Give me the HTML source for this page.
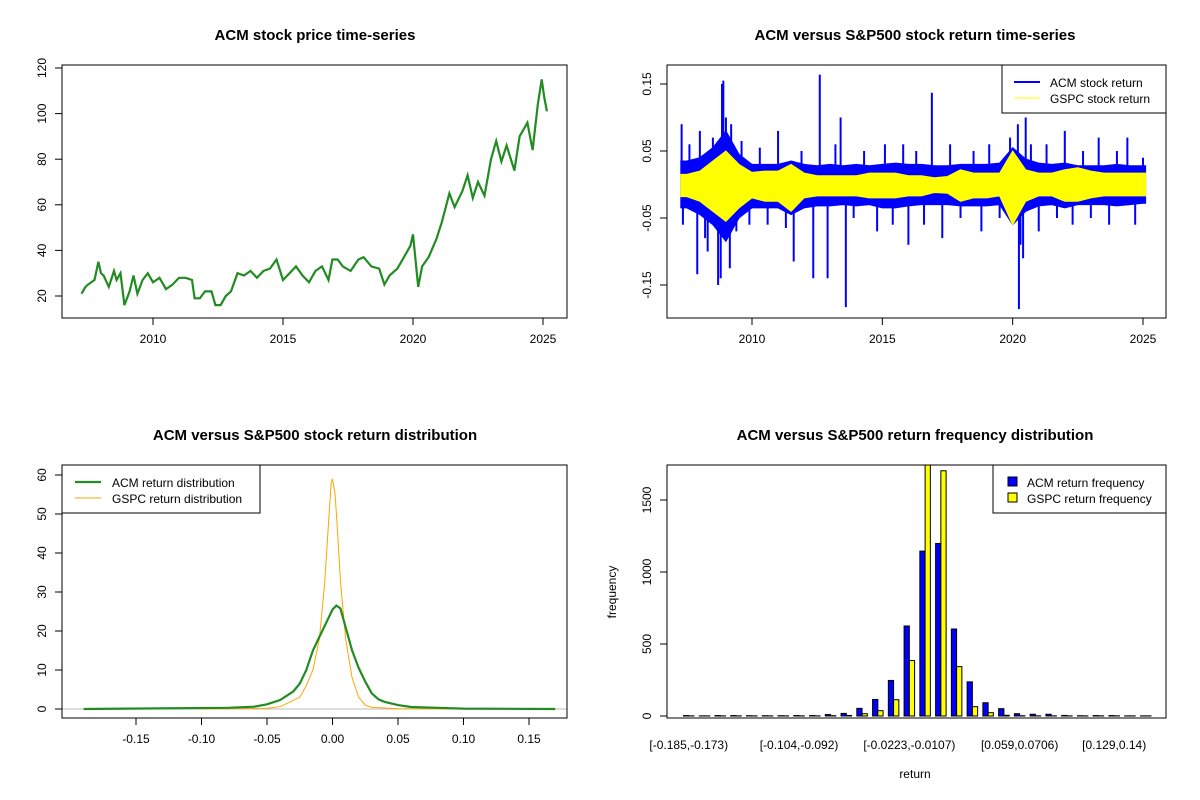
<!DOCTYPE html>
<html><head><meta charset="utf-8">
<style>
body{margin:0;background:#fff;}
svg{display:block;font-family:"Liberation Sans",Arial,sans-serif;}
</style></head>
<body>
<svg id="s" width="1200" height="800" viewBox="0 0 1200 800">
<rect width="1200" height="800" fill="#fff"/>
</svg>
<script>
// ---------- data ----------
const priceYears=[2007.25,2007.4,2007.5,2007.75,2007.9,2008.0,2008.1,2008.3,2008.5,2008.6,2008.75,2008.9,2009.1,2009.25,2009.4,2009.6,2009.8,2010.0,2010.25,2010.5,2010.75,2011.0,2011.25,2011.5,2011.6,2011.8,2012.0,2012.25,2012.4,2012.6,2012.8,2013.0,2013.25,2013.5,2013.75,2014.0,2014.25,2014.5,2014.75,2015.0,2015.25,2015.5,2015.75,2016.0,2016.25,2016.5,2016.75,2016.9,2017.1,2017.3,2017.6,2017.9,2018.1,2018.4,2018.7,2018.9,2019.1,2019.4,2019.6,2019.9,2020.0,2020.2,2020.35,2020.6,2020.9,2021.1,2021.4,2021.6,2021.9,2022.1,2022.3,2022.5,2022.75,2023.0,2023.2,2023.4,2023.6,2023.9,2024.1,2024.4,2024.6,2024.8,2024.95,2025.05,2025.15];
const priceValues=[21,24,25,27,35,30,29,24,31,27,30,16,22,29,21,27,30,26,28,23,25,28,28,27,19,19,22,22,16,16,20,22,30,29,31,28,31,32,36,27,30,33,29,26,31,33,27,36,36,33,31,36,37,33,32,25,29,32,36,42,47,24,33,37,45,52,65,59,66,73,63,70,64,80,88,79,86,75,90,96,84,104,115,107,101];

const retPeriods=[2007.5,2008.0,2008.5,2009.0,2009.5,2010.0,2010.5,2011.0,2011.5,2012.0,2012.5,2013.0,2013.5,2014.0,2014.5,2015.0,2015.5,2016.0,2016.5,2017.0,2017.5,2018.0,2018.5,2019.0,2019.5,2020.0,2020.5,2021.0,2021.5,2022.0,2022.5,2023.0,2023.5,2024.0,2024.5,2025.0];
const acmHi=[0.035,0.04,0.055,0.08,0.045,0.03,0.03,0.03,0.035,0.03,0.028,0.03,0.028,0.03,0.028,0.03,0.032,0.03,0.03,0.028,0.028,0.03,0.03,0.03,0.032,0.055,0.038,0.032,0.03,0.032,0.028,0.028,0.028,0.03,0.028,0.028];
const acmLo=[-0.035,-0.045,-0.06,-0.085,-0.05,-0.035,-0.035,-0.035,-0.045,-0.035,-0.032,-0.032,-0.03,-0.032,-0.03,-0.035,-0.035,-0.032,-0.03,-0.03,-0.03,-0.032,-0.032,-0.032,-0.03,-0.06,-0.04,-0.032,-0.03,-0.035,-0.03,-0.03,-0.03,-0.032,-0.03,-0.028];
const gspHi=[0.015,0.02,0.035,0.05,0.03,0.018,0.02,0.02,0.03,0.017,0.013,0.013,0.013,0.013,0.017,0.017,0.017,0.013,0.013,0.01,0.012,0.022,0.017,0.017,0.017,0.05,0.022,0.017,0.017,0.022,0.025,0.02,0.017,0.017,0.017,0.017];
const gspLo=[-0.018,-0.025,-0.04,-0.055,-0.035,-0.02,-0.025,-0.025,-0.04,-0.02,-0.017,-0.017,-0.017,-0.017,-0.02,-0.02,-0.02,-0.017,-0.017,-0.012,-0.013,-0.025,-0.02,-0.02,-0.017,-0.06,-0.025,-0.017,-0.017,-0.025,-0.025,-0.02,-0.017,-0.017,-0.017,-0.017];
const spikeYears=[2007.3,2007.35,2007.6,2007.9,2008.0,2008.2,2008.3,2008.5,2008.7,2008.8,2008.85,2008.9,2009.0,2009.15,2009.2,2009.4,2009.6,2009.9,2010.3,2010.6,2011.0,2011.3,2011.6,2011.9,2012.35,2012.6,2012.9,2013.2,2013.4,2013.6,2013.9,2014.3,2014.8,2015.1,2015.4,2015.8,2016.0,2016.3,2016.6,2016.9,2017.3,2017.6,2018.0,2018.5,2018.8,2019.1,2019.5,2019.9,2020.2,2020.24,2020.3,2020.4,2020.5,2020.7,2021.0,2021.3,2021.7,2022.0,2022.3,2022.7,2023.0,2023.3,2023.7,2024.0,2024.4,2024.7,2025.0];
const spikeValues=[0.09,-0.06,0.06,-0.134,0.08,-0.08,-0.1,0.07,-0.15,-0.14,0.15,0.155,0.1,-0.125,0.09,-0.07,0.065,-0.06,0.055,-0.06,0.08,-0.065,-0.115,0.05,-0.14,0.164,-0.14,0.06,0.1,-0.183,-0.05,0.05,-0.07,0.06,-0.06,0.06,-0.09,0.05,-0.06,0.137,-0.08,0.06,-0.05,0.05,-0.07,0.06,-0.05,0.07,0.09,-0.186,-0.09,-0.11,0.1,0.06,-0.07,0.06,-0.05,0.08,-0.06,0.05,-0.05,0.07,-0.06,0.05,0.07,-0.06,0.04];

const densX=[-0.19,-0.08,-0.06,-0.05,-0.04,-0.03,-0.025,-0.02,-0.015,-0.01,-0.005,0,0.003,0.006,0.01,0.015,0.02,0.025,0.03,0.035,0.04,0.05,0.06,0.08,0.1,0.17];
const acmDens=[0,0.3,0.6,1.2,2.3,4.5,6.5,10,15,18.5,22,25.5,26.5,25.8,21,15,10.5,7,4,2.5,1.8,1.0,0.5,0.3,0.1,0];
const gspX=[-0.1,-0.05,-0.04,-0.03,-0.025,-0.02,-0.015,-0.01,-0.006,-0.003,-0.001,0,0.002,0.004,0.006,0.01,0.015,0.02,0.025,0.03,0.05,0.1];
const gspDens=[0,0.2,0.6,2.2,3,6,10,18,32,48,58,59,55,45,33,18,8,3,1,0.4,0.1,0];

const binLabels=["[-0.185,-0.173)","[-0.104,-0.092)","[-0.0223,-0.0107)","[0.059,0.0706)","[0.129,0.14)"];
const binLabelIdx=[0,7,14,21,27];
const acmFreq=[3,1,3,3,2,2,2,3,3,10,18,53,115,247,625,1145,1198,604,237,92,51,16,12,12,4,2,3,3,1,1];
const gspFreq=[1,1,1,1,1,1,1,1,1,2,4,16,37,113,385,1900,1703,343,65,23,5,2,1,1,1,1,1,1,1,1];

// ---------- helpers ----------
const S=document.getElementById('s');const NS='http://www.w3.org/2000/svg';
function el(t,a,txt){const e=document.createElementNS(NS,t);for(const k in a)e.setAttribute(k,a[k]);if(txt!==undefined)e.textContent=txt;S.appendChild(e);return e;}
function lin(d0,d1,r0,r1){return v=>r0+(v-d0)*(r1-r0)/(d1-d0);}
function box(x0,y0,x1,y1,name){const e=el('rect',{x:x0,y:y0,width:x1-x0,height:y1-y0,fill:'none',stroke:'#000','stroke-width':1});}
function title(x,y,t,name){const e=el('text',{x:x,y:y,'text-anchor':'middle','font-size':15,'font-weight':'bold'},t);}
function xtick(x,yb,lab,name){el('line',{x1:x,x2:x,y1:yb,y2:yb+7,stroke:'#000'});const e=el('text',{x:x,y:yb+25,'text-anchor':'middle','font-size':12},lab);}
function ytick(y,xl,lab,name){el('line',{x1:xl,x2:xl-7,y1:y,y2:y,stroke:'#000'});const e=el('text',{x:0,y:0,'text-anchor':'middle','font-size':12,transform:`translate(${xl-16},${y}) rotate(-90)`},lab);}
function path(pts,attrs,name){const e=el('path',Object.assign({d:'M'+pts.map(p=>p[0].toFixed(1)+','+p[1].toFixed(1)).join('L'),fill:'none'},attrs));return e;}
function band(X,Y,hi,lo,col,name){
const up=retPeriods.map((t,i)=>[X(t),Y(hi[i])]),dn=retPeriods.map((t,i)=>[X(t),Y(lo[i])]).reverse();
up.unshift([X(2007.25),Y(hi[0])]);up.push([X(2025.1),Y(hi[hi.length-1])]);
dn.unshift([X(2025.1),Y(lo[lo.length-1])]);dn.push([X(2007.25),Y(lo[0])]);
path(up.concat(dn),{fill:col,stroke:col,'stroke-width':1},name);}

// ---------- panel 1: price ----------
{const X=lin(2010,2025,153,543),Y=lin(20,120,296,68);
title(315,40,'ACM stock price time-series','price-chart-title');
path(priceYears.map((t,i)=>[X(t),Y(priceValues[i])]),{stroke:'#228B22','stroke-width':2.2},'acm-price-line');
box(62,65,567,318,'price-plot-area');
[2010,2015,2020,2025].forEach(t=>xtick(X(t),318,String(t),'price-x-tick'));
[20,40,60,80,100,120].forEach(v=>ytick(Y(v),62,String(v),'price-y-tick'));}

// ---------- panel 2: returns ----------
{const X=lin(2010,2025,752,1143),Y=lin(-0.15,0.15,285,84);
title(915,40,'ACM versus S&P500 stock return time-series','return-series-title');
band(X,Y,acmHi,acmLo,'#0000ff','acm-return-band');
spikeYears.forEach((t,i)=>{const l=el('line',{x1:X(t),x2:X(t),y1:Y(0),y2:Y(spikeValues[i]),stroke:'#0000ff','stroke-width':2});

});
band(X,Y,gspHi,gspLo,'#ffff00','gspc-return-band');
box(667,65,1166,318,'return-plot-area');
[2010,2015,2020,2025].forEach(t=>xtick(X(t),318,String(t),'return-x-tick'));
[-0.15,-0.05,0.05,0.15].forEach(v=>ytick(Y(v),667,v.toFixed(2),'return-y-tick'));
el('rect',{x:1002,y:65,width:164,height:48,fill:'#fff',stroke:'#000'});
el('line',{x1:1014,x2:1040,y1:82,y2:82,stroke:'#0000ff','stroke-width':2});
el('text',{x:1050,y:87,'font-size':12},'ACM stock return');
el('line',{x1:1014,x2:1040,y1:98,y2:98,stroke:'#ffff00','stroke-width':1});
el('text',{x:1050,y:103,'font-size':12},'GSPC stock return');}

// ---------- panel 3: density ----------
{const X=lin(-0.15,0.15,136,529),Y=lin(0,60,709,475);
title(315,440,'ACM versus S&P500 stock return distribution','density-title');
el('line',{x1:62,x2:567,y1:Y(0),y2:Y(0),stroke:'#bebebe'});
path(gspX.map((x,i)=>[X(x),Y(gspDens[i])]),{stroke:'#FFA500','stroke-width':1},'gspc-density-line');
path(densX.map((x,i)=>[X(x),Y(acmDens[i])]),{stroke:'#228B22','stroke-width':2.2},'acm-density-line');
box(62,465,567,718,'density-plot-area');
[-0.15,-0.10,-0.05,0,0.05,0.10,0.15].forEach(v=>xtick(X(v),718,v.toFixed(2),'density-x-tick'));
[0,10,20,30,40,50,60].forEach(v=>ytick(Y(v),62,String(v),'density-y-tick'));
el('rect',{x:62,y:465,width:198,height:48,fill:'#fff',stroke:'#000'});
el('line',{x1:75,x2:101,y1:482,y2:482,stroke:'#228B22','stroke-width':2.2});
el('text',{x:112,y:487,'font-size':12},'ACM return distribution');
el('line',{x1:75,x2:101,y1:498,y2:498,stroke:'#FFA500','stroke-width':1});
el('text',{x:112,y:503,'font-size':12},'GSPC return distribution');}

// ---------- panel 4: histogram ----------
{const U=lin(1,91,683.5,1151+5.2),Y=lin(0,1500,716,500);
title(915,440,'ACM versus S&P500 return frequency distribution','frequency-title');
const g=el('g',{'clip-path':'url(#hc)'});
const cp=el('clipPath',{id:'hc'});const cr=document.createElementNS(NS,'rect');cr.setAttribute('x',667);cr.setAttribute('y',465);cr.setAttribute('width',499);cr.setAttribute('height',253);cp.appendChild(cr);
acmFreq.forEach((v,i)=>{const u=1+3*i;
const b=document.createElementNS(NS,'rect');b.setAttribute('x',U(u));b.setAttribute('width',U(u+1)-U(u));b.setAttribute('y',Y(v));b.setAttribute('height',Y(0)-Y(v));b.setAttribute('fill','#0000ff');b.setAttribute('stroke','#000');

g.appendChild(b);
const w=gspFreq[i];const c=document.createElementNS(NS,'rect');c.setAttribute('x',U(u+1));c.setAttribute('width',U(u+1)-U(u));c.setAttribute('y',Y(w));c.setAttribute('height',Y(0)-Y(w));c.setAttribute('fill','#ffff00');c.setAttribute('stroke','#000');

g.appendChild(c);});
box(667,465,1166,718,'frequency-plot-area');
binLabelIdx.forEach((idx,k)=>{const t=el('text',{x:U(2+3*idx),y:749,'text-anchor':'middle','font-size':12},binLabels[k]);});
[0,500,1000,1500].forEach(v=>ytick(Y(v),667,String(v),'frequency-y-tick'));
el('text',{x:915,y:778,'text-anchor':'middle','font-size':12},'return');
el('text',{x:0,y:0,'text-anchor':'middle','font-size':12,transform:'translate(616,592) rotate(-90)'},'frequency');
el('rect',{x:993,y:465,width:173,height:48,fill:'#fff',stroke:'#000'});
el('rect',{x:1008,y:477,width:9,height:9,fill:'#0000ff',stroke:'#000'});
el('text',{x:1027,y:487,'font-size':12},'ACM return frequency');
el('rect',{x:1008,y:493,width:9,height:9,fill:'#ffff00',stroke:'#000'});
el('text',{x:1027,y:503,'font-size':12},'GSPC return frequency');}
</script>
</body></html>
